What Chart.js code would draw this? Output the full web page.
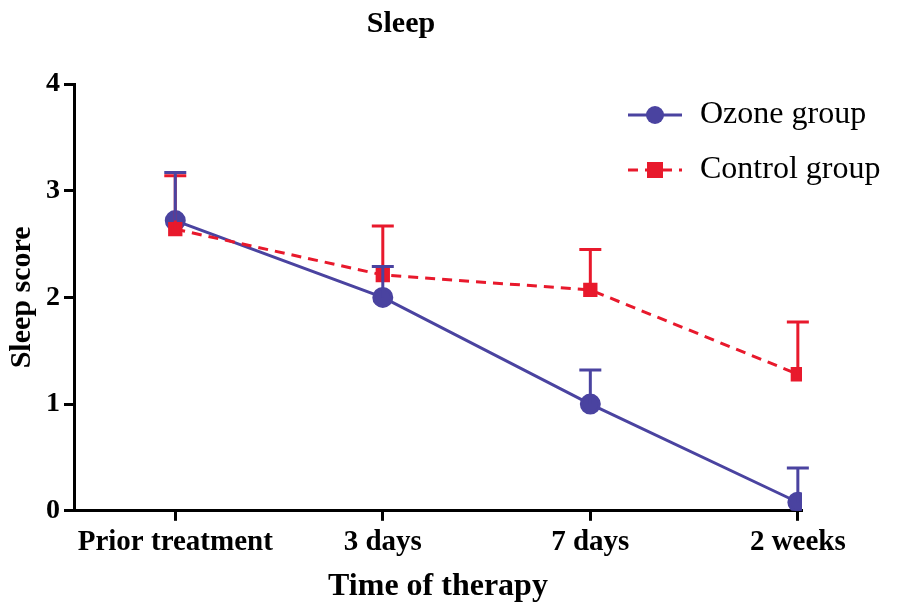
<!DOCTYPE html>
<html>
<head>
<script src="https://cdn.jsdelivr.net/npm/chart.js@4/dist/chart.umd.min.js"></script>
<style>
  body { margin: 0; background: #fff; }
  #wrap { width: 903px; height: 610px; position: relative; }
</style>
</head>
<body>
<div id="wrap"><canvas id="chart"></canvas></div>
<script>
  const categories = ["Prior treatment", "3 days", "7 days", "2 weeks"];
  const ozoneMean = [2.72, 2.0, 1.0, 0.08];
  const ozoneTop = [3.17, 2.29, 1.32, 0.40];
  const controlMean = [2.64, 2.21, 2.07, 1.28];
  const controlTop = [3.14, 2.67, 2.45, 1.77];
  const yTicks = [0, 1, 2, 3, 4];

  const blue = "#4a43a0";
  const red = "#e8192c";
  const serif = "'Liberation Serif', 'Times New Roman', serif";

  // upward error bars
  const errorBars = {
    id: "errorBars",
    afterDatasetsDraw(chart) {
      const { ctx, scales: { x, y } } = chart;
      const sets = [[controlMean, controlTop, red], [ozoneMean, ozoneTop, blue]];
      ctx.save();
      ctx.lineWidth = 3;
      sets.forEach(([mean, top, color]) => {
        ctx.strokeStyle = color;
        mean.forEach((m, i) => {
          const px = x.getPixelForValue(i);
          const y0 = y.getPixelForValue(m);
          const y1 = y.getPixelForValue(top[i]);
          ctx.beginPath();
          ctx.moveTo(px, y0);
          ctx.lineTo(px, y1);
          ctx.moveTo(px - 11, y1);
          ctx.lineTo(px + 11, y1);
          ctx.stroke();
        });
      });
      ctx.restore();
    }
  };

  // legend with line + marker
  const sideLegend = {
    id: "sideLegend",
    afterDraw(chart) {
      const { ctx } = chart;
      const items = [
        ["Ozone group", blue, [], "circle", 115],
        ["Control group", red, [10, 7], "rect", 170]
      ];
      ctx.save();
      ctx.font = "32px " + serif;
      ctx.textBaseline = "middle";
      items.forEach(([label, color, dash, shape, yy]) => {
        ctx.strokeStyle = color;
        ctx.fillStyle = color;
        ctx.lineWidth = 3;
        ctx.setLineDash(dash);
        ctx.beginPath();
        ctx.moveTo(628, yy);
        ctx.lineTo(682, yy);
        ctx.stroke();
        ctx.setLineDash([]);
        if (shape === "circle") {
          ctx.beginPath();
          ctx.arc(655, yy, 9, 0, Math.PI * 2);
          ctx.fill();
        } else {
          ctx.fillRect(647, yy - 8, 16, 16);
        }
        ctx.fillStyle = "#000";
        ctx.fillText(label, 700, yy);
      });
      ctx.restore();
    }
  };

  const axisGrid = { display: true, drawOnChartArea: false, drawTicks: true, tickLength: 10, tickWidth: 3, tickColor: "#000" };

  const ctx = document.getElementById("chart").getContext("2d");
  new Chart(ctx, {
    type: "line",
    data: {
      datasets: [
        {
          label: "Control group",
          data: controlMean.map((v, i) => ({ x: i, y: v })),
          borderColor: red,
          backgroundColor: red,
          borderDash: [10, 7],
          borderWidth: 3,
          pointStyle: "rect",
          pointRadius: 8,
          tension: 0
        },
        {
          label: "Ozone group",
          data: ozoneMean.map((v, i) => ({ x: i, y: v })),
          borderColor: blue,
          backgroundColor: blue,
          borderWidth: 3,
          pointStyle: "circle",
          pointRadius: 9,
          tension: 0
        }
      ]
    },
    options: {
      responsive: true,
      maintainAspectRatio: false,
      animation: false,
      layout: { padding: { top: 0, right: 101, bottom: 0, left: 0 } },
      plugins: {
        legend: { display: false },
        tooltip: { enabled: false },
        title: {
          display: true,
          text: "Sleep",
          color: "#000",
          font: { family: serif, size: 30, weight: "bold" },
          padding: { top: 6, bottom: 42 }
        }
      },
      scales: {
        x: {
          type: "linear",
          min: -0.488,
          max: 3.02,
          afterBuildTicks: s => { s.ticks = categories.map((c, i) => ({ value: i })); },
          ticks: {
            callback: v => categories[v],
            color: "#000",
            font: { family: serif, size: 29, weight: "bold" },
            maxRotation: 0,
            autoSkip: false,
            padding: 4
          },
          grid: axisGrid,
          border: { color: "#000", width: 3 },
          title: {
            display: true,
            text: "Time of therapy",
            color: "#000",
            font: { family: serif, size: 32, weight: "bold" },
            padding: { top: 4 }
          }
        },
        y: {
          min: 0,
          max: 4,
          afterBuildTicks: s => { s.ticks = yTicks.map(v => ({ value: v })); },
          ticks: {
            color: "#000",
            font: { family: serif, size: 28, weight: "bold" },
            padding: 4
          },
          grid: axisGrid,
          border: { color: "#000", width: 3 },
          title: {
            display: true,
            text: "Sleep score",
            color: "#000",
            font: { family: serif, size: 30, weight: "bold" },
            padding: { bottom: 2 }
          }
        }
      }
    },
    plugins: [errorBars, sideLegend]
  });
</script>
</body>
</html>
